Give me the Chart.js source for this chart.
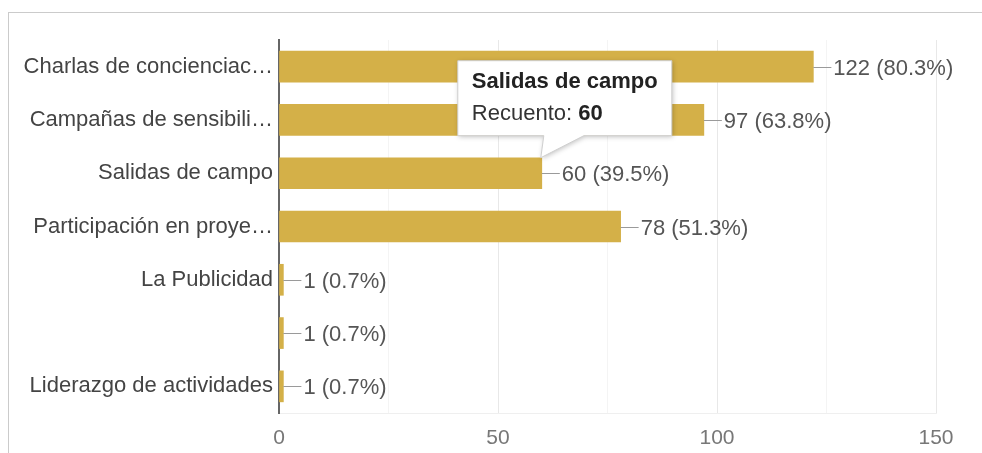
<!DOCTYPE html>
<html lang="es">
<head>
<meta charset="utf-8">
<script src="https://cdn.jsdelivr.net/npm/chart.js@4/dist/chart.umd.min.js"></script>
<style>
  html, body { margin: 0; padding: 0; background: #fff; overflow: hidden; }
  #wrap { position: relative; width: 982px; height: 453px; }
  #chart { position: absolute; left: 0; top: 0; }
  /* marco gris claro alrededor de la tarjeta */
  #frame { position: absolute; left: 8px; top: 12px; width: 1000px; height: 500px;
           border: 1px solid #cbcbcb; pointer-events: none; }
</style>
</head>
<body>
<div id="wrap">
  <canvas id="chart" width="982" height="453"></canvas>
  <div id="frame"></div>
</div>
<script>
// ---- datos de la pregunta ----
const categorias = [
  'Charlas de concienciac…',
  'Campañas de sensibili…',
  'Salidas de campo',
  'Participación en proye…',
  'La Publicidad',
  '',
  'Liderazgo de actividades'
];
const recuentos = [122, 97, 60, 78, 1, 1, 1];
const porcentajes = [80.3, 63.8, 39.5, 51.3, 0.7, 0.7, 0.7];
const ticksX = [0, 50, 100, 150];

const colorBarra = '#d4b048';
const fuente = '"Liberation Sans", Arial, sans-serif';
const barraDestacada = 2; // la del tooltip fijo

// Etiquetas "n (p%)" con su guía al final de cada barra
const etiquetasValor = {
  id: 'etiquetasValor',
  afterDatasetsDraw(chart) {
    const ctx = chart.ctx;
    const meta = chart.getDatasetMeta(0);
    ctx.save();
    ctx.font = '22px ' + fuente;
    ctx.textBaseline = 'middle';
    ctx.textAlign = 'left';
    meta.data.forEach((bar, i) => {
      const x = bar.x, y = Math.round(bar.y) + 0.5;
      ctx.strokeStyle = '#9a9a9a';
      ctx.lineWidth = 1;
      ctx.beginPath();
      ctx.moveTo(x, y);
      ctx.lineTo(x + 18, y);
      ctx.stroke();
      ctx.fillStyle = '#555';
      ctx.fillText(recuentos[i] + ' (' + porcentajes[i].toFixed(1) + '%)', x + 20, y + 1);
    });
    ctx.restore();
  }
};

// Tooltip fijo sobre "Salidas de campo"
const tooltipFijo = {
  id: 'tooltipFijo',
  afterDraw(chart) {
    const ctx = chart.ctx;
    const bar = chart.getDatasetMeta(0).data[barraDestacada];
    const ax = bar.x, ay = bar.y - bar.height / 2;
    const left = ax - 84, top = ay - 97, w = 214, h = 75;

    ctx.save();
    ctx.beginPath();
    ctx.moveTo(left, top);
    ctx.lineTo(left + w, top);
    ctx.lineTo(left + w, top + h);
    ctx.lineTo(ax + 42, top + h);
    ctx.lineTo(ax - 1, ay);
    ctx.lineTo(ax + 2, top + h);
    ctx.lineTo(left, top + h);
    ctx.closePath();
    ctx.shadowColor = 'rgba(0,0,0,0.25)';
    ctx.shadowBlur = 5;
    ctx.shadowOffsetX = 1;
    ctx.shadowOffsetY = 1;
    ctx.fillStyle = '#fff';
    ctx.fill();
    ctx.shadowColor = 'transparent';
    ctx.strokeStyle = '#cfcfcf';
    ctx.lineWidth = 1;
    ctx.stroke();

    ctx.textBaseline = 'middle';
    ctx.textAlign = 'left';
    ctx.fillStyle = '#222';
    ctx.font = 'bold 22px ' + fuente;
    ctx.fillText(categorias[barraDestacada], left + 14, top + 21);
    ctx.font = '22px ' + fuente;
    ctx.fillStyle = '#333';
    const pre = 'Recuento: ';
    ctx.fillText(pre, left + 14, top + 53);
    const wPre = ctx.measureText(pre).width;
    ctx.font = 'bold 22px ' + fuente;
    ctx.fillStyle = '#222';
    ctx.fillText(String(recuentos[barraDestacada]), left + 14 + wPre, top + 53);
    ctx.restore();
  }
};

new Chart(document.getElementById('chart').getContext('2d'), {
  type: 'bar',
  data: {
    labels: categorias,
    datasets: [{
      data: recuentos,
      backgroundColor: colorBarra,
      borderWidth: 0,
      barThickness: 31
    }]
  },
  options: {
    indexAxis: 'y',
    responsive: false,
    animation: false,
    events: [],
    layout: { padding: { top: 40, right: 46, left: 0, bottom: 0 } },
    plugins: {
      legend: { display: false },
      tooltip: { enabled: false }
    },
    scales: {
      x: {
        min: 0,
        max: 150,
        afterFit: s => { s.height = 40; },
        ticks: {
          stepSize: 25,
          padding: 13,
          color: '#777',
          font: { family: fuente, size: 21 },
          callback: v => ticksX.includes(v) ? String(v) : ''
        },
        grid: {
          drawTicks: false,
          color: ctx => (ctx.tick && ticksX.includes(ctx.tick.value)) ? '#e8e8e8' : '#f4f4f4'
        },
        border: { display: true, color: '#efefef' }
      },
      y: {
        afterFit: s => { s.width = 279; },
        ticks: {
          padding: 6,
          color: '#444',
          font: { family: fuente, size: 22 }
        },
        grid: { display: false, drawTicks: false },
        border: { display: true, color: '#666', width: 2 }
      }
    }
  },
  plugins: [etiquetasValor, tooltipFijo]
});
</script>
</body>
</html>
